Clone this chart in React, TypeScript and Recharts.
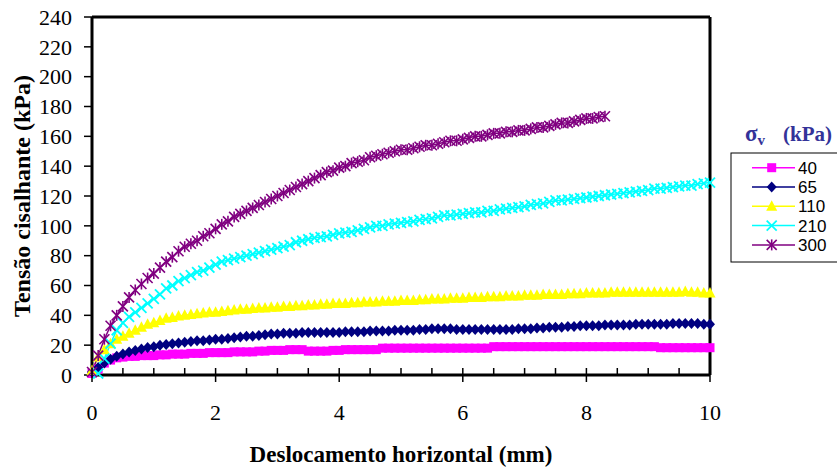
import React from 'react';
import { LineChart, Line, XAxis, YAxis, ReferenceLine, Legend, Label } from 'recharts';

// Horizontal displacement (mm)
const displacement = [
  0, 0.1, 0.2, 0.3, 0.4, 0.5, 0.6, 0.7, 0.8, 0.9, 1,
  1.1, 1.2, 1.3, 1.4, 1.5, 1.6, 1.7, 1.8, 1.9, 2,
  2.1, 2.2, 2.3, 2.4, 2.5, 2.6, 2.7, 2.8, 2.9, 3,
  3.1, 3.2, 3.3, 3.4, 3.5, 3.6, 3.7, 3.8, 3.9, 4,
  4.1, 4.2, 4.3, 4.4, 4.5, 4.6, 4.7, 4.8, 4.9, 5,
  5.1, 5.2, 5.3, 5.4, 5.5, 5.6, 5.7, 5.8, 5.9, 6,
  6.1, 6.2, 6.3, 6.4, 6.5, 6.6, 6.7, 6.8, 6.9, 7,
  7.1, 7.2, 7.3, 7.4, 7.5, 7.6, 7.7, 7.8, 7.9, 8,
  8.1, 8.2, 8.3, 8.4, 8.5, 8.6, 8.7, 8.8, 8.9, 9,
  9.1, 9.2, 9.3, 9.4, 9.5, 9.6, 9.7, 9.8, 9.9, 10,
];

// Shear stress (kPa) for each normal stress
const tau40 = [
  1, 4, 8, 10, 11.5, 12, 12.5, 12.5, 13, 13, 13,
  13.5, 13.5, 14, 14, 14, 14.5, 14.5, 14.5, 15, 15,
  15, 15, 15.5, 15.5, 15.5, 15.5, 16, 16, 16.5, 16.5,
  16.5, 17, 17, 17, 16, 16, 16, 16, 16.5, 16.5,
  17, 17, 17, 17, 17, 17, 18, 18, 18, 18,
  18, 18, 18, 18, 18, 18, 18, 18, 18, 18,
  18, 18, 18, 18, 19, 19, 19, 19, 19, 19,
  19, 19, 19, 19, 19, 19, 19, 19, 19, 19,
  19, 19, 19, 19, 19, 19, 19, 19, 19, 19,
  19, 18.3, 18.3, 18.3, 18.3, 18.3, 18.3, 18.3, 18.3, 18.3,
];

const tau65 = [
  2, 5, 8, 10.5, 12.5, 14, 15.5, 16.5, 17.5, 18.5, 19,
  20, 20.5, 21, 21.5, 22, 22.5, 23, 23, 23.5, 24,
  24, 24.5, 25, 25.5, 26, 26, 26.5, 27, 27.5, 27.5,
  28, 28, 28, 28.5, 28.5, 28.5, 28.5, 28.5, 28.5, 28.5,
  29, 29, 29, 29, 29.5, 29.5, 29.5, 29.5, 30, 30,
  30, 30, 30.5, 30.5, 31, 31, 31, 31, 30.5, 30.5,
  30.5, 30.5, 30.5, 30.5, 30.5, 30.5, 30.5, 30.5, 31, 31,
  31, 31.5, 31.5, 32, 32, 32, 32.5, 32.5, 33, 33,
  33, 33, 33.5, 33.5, 33.5, 33.5, 33.5, 34, 34, 34,
  34, 34, 34, 34.5, 34.5, 34.5, 34.5, 34.5, 34, 34,
];

const tau110 = [
  3, 12, 17, 21, 24, 26, 28, 30, 32, 34, 35,
  36.5, 38, 38.5, 39.5, 40, 40.5, 41, 41.5, 42, 42,
  42.5, 43, 43.5, 44, 44, 44.5, 45, 45, 45.5, 45.5,
  46, 46, 46.5, 46.5, 47, 47, 47.5, 47.5, 48, 48,
  48, 48.5, 48.5, 49, 49, 49, 49.5, 49.5, 49.5, 50,
  50, 50, 50.5, 50.5, 51, 51, 51, 51.5, 51.5, 51.5,
  52, 52, 52, 52.5, 52.5, 52.5, 53, 53, 53, 53.5,
  53.5, 53.5, 54, 54, 54, 54, 54.5, 54.5, 54.5, 55,
  55, 55, 55, 55.5, 55.5, 55.5, 55.5, 55.5, 55.5, 55.5,
  55.5, 55.5, 55.5, 55.5, 55.5, 56, 55.5, 55.5, 55, 55,
];

const tau210 = [
  null, 1, 11, 21, 30, 35, 39, 42, 45, 48, 51,
  54, 58, 60, 63, 65, 67, 69, 70, 72, 74,
  76, 77, 78, 79, 80, 81, 82, 83, 84, 85,
  86, 87, 89, 90, 91, 92, 92.5, 93, 94, 95,
  95.5, 96, 97, 98, 99, 100, 100, 101, 101.5, 102,
  102.5, 103, 104, 104.5, 105, 106, 107, 107, 107.5, 108,
  108.5, 109, 109, 110, 110, 111, 111.5, 112, 112.5, 113,
  114, 114.5, 115, 116, 117, 117, 117.5, 118, 118.5, 119,
  119.5, 120, 120.5, 121, 121.5, 122, 122.5, 123, 123.5, 124,
  125, 125, 125.5, 126, 126.5, 127, 127, 128, 128.5, 129,
];

const tau300 = [
  2, 13, 24, 33, 40, 46, 52, 57, 61, 65, 68,
  72, 76, 79, 83, 86, 88, 90, 93, 95, 98,
  101, 103, 106, 108, 110, 112, 114, 116, 118, 120,
  122, 124, 126, 128, 130, 132, 134, 136, 137, 139,
  140, 142, 143, 144, 146, 147, 148, 149, 150, 151,
  151, 152, 153, 154, 154, 155, 156, 157, 157, 158,
  159, 160, 160, 161, 162, 162, 163, 163, 164, 164,
  165, 166, 166, 167, 168, 169, 169, 170, 171, 172,
  172, 173, 173.5,
];

const yTicks = [0, 20, 40, 60, 80, 100, 120, 140, 160, 180, 200, 220, 240];
const xTicks = [0, 0.5, 1, 1.5, 2, 2.5, 3, 3.5, 4, 4.5, 5, 5.5, 6, 6.5, 7, 7.5, 8, 8.5, 9, 9.5, 10];
const xLabelled = [0, 2, 4, 6, 8, 10];

type MarkerKind = 'square' | 'diamond' | 'triangle' | 'cross' | 'star';

const series: { key: string; name: string; color: string; marker: MarkerKind; values: (number | null)[] }[] = [
  { key: 's40', name: '40', color: '#FF00FF', marker: 'square', values: tau40 },
  { key: 's65', name: '65', color: '#000080', marker: 'diamond', values: tau65 },
  { key: 's110', name: '110', color: '#FFFF00', marker: 'triangle', values: tau110 },
  { key: 's210', name: '210', color: '#00FFFF', marker: 'cross', values: tau210 },
  { key: 's300', name: '300', color: '#800080', marker: 'star', values: tau300 },
];

const rows = displacement.map((d, i) => {
  const row: Record<string, number | null> = { d };
  series.forEach((s) => {
    const v = s.values[i];
    row[s.key] = v === undefined ? null : v;
  });
  return row;
});

const serif = '"Liberation Serif", "Times New Roman", serif';
const sans = '"Liberation Sans", Arial, sans-serif';

function Marker({ kind, cx, cy, color }: { kind: MarkerKind; cx: number; cy: number; color: string }) {
  switch (kind) {
    case 'square':
      return <rect x={cx - 4.5} y={cy - 4.5} width={9} height={9} fill={color} />;
    case 'diamond':
      return <polygon points={`${cx},${cy - 5.5} ${cx + 5},${cy} ${cx},${cy + 5.5} ${cx - 5},${cy}`} fill={color} />;
    case 'triangle':
      return <polygon points={`${cx},${cy - 6} ${cx + 5.5},${cy + 4.5} ${cx - 5.5},${cy + 4.5}`} fill={color} />;
    case 'cross':
      return (
        <g stroke={color} strokeWidth={1.8}>
          <line x1={cx - 5} y1={cy - 5} x2={cx + 5} y2={cy + 5} />
          <line x1={cx - 5} y1={cy + 5} x2={cx + 5} y2={cy - 5} />
        </g>
      );
    default:
      return (
        <g stroke={color} strokeWidth={1.6}>
          <line x1={cx - 5} y1={cy - 5} x2={cx + 5} y2={cy + 5} />
          <line x1={cx - 5} y1={cy + 5} x2={cx + 5} y2={cy - 5} />
          <line x1={cx} y1={cy - 5.5} x2={cx} y2={cy + 5.5} />
        </g>
      );
  }
}

const makeDot = (kind: MarkerKind, color: string, name: string) => (p: any) => {
  const k = `${name}-${p.index}`;
  if (p.cx == null || p.cy == null || p.value == null || (Array.isArray(p.value) && p.value[1] == null)) {
    return <g key={k} />;
  }
  return (
    <g key={k}>
      <Marker kind={kind} cx={p.cx} cy={p.cy} color={color} />
    </g>
  );
};

const XTick = (props: any) => {
  const { x, y, payload } = props;
  const v = payload.value as number;
  const major = xLabelled.includes(v);
  return (
    <g>
      <line x1={x} x2={x} y1={y - 7} y2={major ? y + 7 : y} stroke="#000" strokeWidth={1.5} />
      {major && (
        <text x={x} y={y + 45} textAnchor="middle" fontFamily={serif} fontSize={22} fill="#000">
          {v}
        </text>
      )}
    </g>
  );
};

const YTitle = (props: any) => {
  const vb = props.viewBox || { x: 0, y: 17, width: 92, height: 358 };
  const x = vb.x + 30;
  const y = vb.y + vb.height / 2;
  return (
    <text x={x} y={y} transform={`rotate(-90 ${x} ${y})`} textAnchor="middle" fontFamily={serif} fontWeight="bold" fontSize={24} fill="#000">
      Tensão cisalhante (kPa)
    </text>
  );
};

const XTitle = (props: any) => {
  const vb = props.viewBox || { x: 92, y: 375, width: 618, height: 98 };
  return (
    <text x={vb.x + vb.width / 2} y={vb.y + 87} textAnchor="middle" fontFamily={serif} fontWeight="bold" fontSize={23} fill="#000">
      Deslocamento horizontal (mm)
    </text>
  );
};

const LegendBox = () => (
  <svg width={112} height={160} style={{ display: 'block', overflow: 'visible' }}>
    <text x={20} y={31} fontFamily={serif} fontWeight="bold" fontSize={23} fill="#333399">
      <tspan>σ</tspan>
      <tspan dy={4} fontSize={15}>v</tspan>
    </text>
    <text x={58} y={31} fontFamily={serif} fontWeight="bold" fontSize={21} fill="#333399">
      (kPa)
    </text>
    <rect x={6} y={43} width={130} height={109} fill="#fff" stroke="#000" strokeWidth={1} />
    {series.map((s, i) => {
      const cy = 57.7 + i * 19.3;
      return (
        <g key={s.key}>
          <line x1={27} x2={70} y1={cy} y2={cy} stroke={s.color} strokeWidth={1.5} />
          <Marker kind={s.marker} cx={46.7} cy={cy} color={s.color} />
          <text x={73} y={cy} dy="0.36em" fontFamily={sans} fontSize={17} fill="#000">
            {s.name}
          </text>
        </g>
      );
    })}
  </svg>
);

export default function App() {
  return (
    <div style={{ position: 'absolute', left: 0, top: 0, width: 837, height: 473, background: '#fff' }}>
      <LineChart width={837} height={473} data={rows} margin={{ top: 17, right: 127, bottom: 0, left: 0 }}>
        <XAxis
          dataKey="d"
          type="number"
          domain={[0, 10]}
          ticks={xTicks}
          interval={0}
          height={98}
          tickSize={0}
          tickMargin={0}
          tickLine={false}
          tick={<XTick />}
          axisLine={{ stroke: '#000', strokeWidth: 3 }}
        >
          <Label content={<XTitle />} />
        </XAxis>
        <YAxis
          type="number"
          domain={[0, 240]}
          ticks={yTicks}
          interval={0}
          width={92}
          tickSize={8}
          tickMargin={12}
          tickLine={{ stroke: '#000', strokeWidth: 1.5 }}
          tick={{ fill: '#000', fontSize: 22, fontFamily: serif }}
          axisLine={{ stroke: '#000', strokeWidth: 3 }}
        >
          <Label content={<YTitle />} />
        </YAxis>
        <ReferenceLine y={240} stroke="#000" strokeWidth={3} />
        <ReferenceLine x={10} stroke="#000" strokeWidth={3} />
        {series.map((s) => (
          <Line
            key={s.key}
            dataKey={s.key}
            name={s.name}
            type="linear"
            stroke={s.color}
            strokeWidth={1.5}
            dot={makeDot(s.marker, s.color, s.key)}
            activeDot={false}
            isAnimationActive={false}
          />
        ))}
        <Legend
          layout="horizontal"
          align="center"
          verticalAlign="middle"
          wrapperStyle={{ position: 'absolute', left: 725, top: 110, width: 112, height: 160 }}
          content={() => <LegendBox />}
        />
      </LineChart>
    </div>
  );
}
